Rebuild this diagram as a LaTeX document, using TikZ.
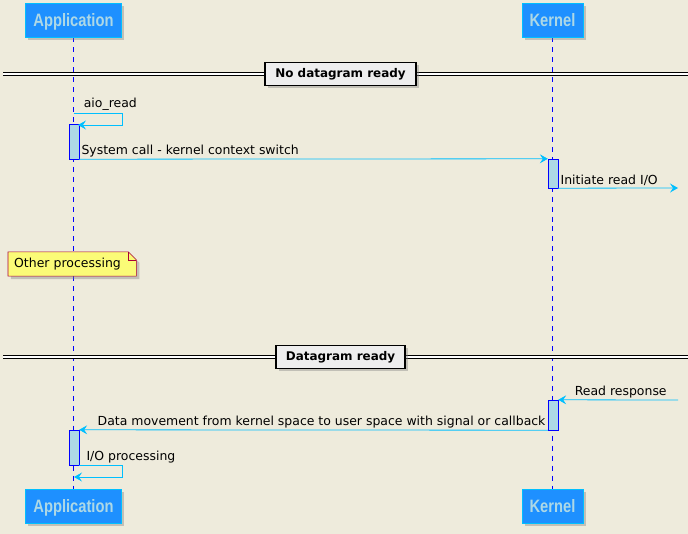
\documentclass[tikz,border=0pt]{standalone}
\usepackage{fontspec}
\setmainfont{DejaVu Sans}
\newfontfamily\headfont{Liberation Sans}
\usetikzlibrary{positioning}
\usetikzlibrary{calc}
\usetikzlibrary{arrows.meta}
\usetikzlibrary{shadows}
\definecolor{paper}{RGB}{238,235,220}
\definecolor{partfill}{RGB}{30,144,255}
\definecolor{parttext}{RGB}{173,216,230}
\definecolor{msgcol}{RGB}{0,191,255}
\definecolor{actfill}{RGB}{173,216,230}
\definecolor{notefill}{RGB}{251,251,119}
\definecolor{noteline}{RGB}{168,0,54}
\definecolor{divfill}{RGB}{238,238,238}
\newcommand{\headtext}[1]{\scalebox{0.82}[1]{#1}}
\pgfdeclarelayer{bg}
\pgfsetlayers{bg,main}

\begin{document}
\begin{tikzpicture}[x=1bp, y=-1bp, line width=0.7pt,
        font=\fontsize{12.5}{15}\selectfont,
        shadow/.style={drop shadow={opacity=0.4, shadow xshift=3pt, shadow yshift=-3pt}},
        participant/.style={rectangle, fill=partfill, draw=msgcol, text=parttext,
            font=\headfont\bfseries\fontsize{18}{20}\selectfont,
            text height=13pt, text depth=0pt, minimum height=34bp, shadow},
        lifeline/.style={draw=blue, line width=0.8pt, dash pattern=on 5pt off 5pt},
        act/.style={rectangle, fill=actfill, draw=blue, minimum width=10bp, inner sep=0pt},
        msg/.style={draw=msgcol, line width=0.8pt, -{Stealth[length=8pt, width=9pt, inset=3pt]}},
        label/.style={text=black, inner sep=2pt},
        divider/.style={rectangle, fill=divfill, draw=black, line width=1.2pt,
            font=\fontsize{12}{14}\selectfont\bfseries, minimum height=23bp, shadow},
        dividerline/.style={draw=black, line width=0.6pt, double=white, double distance=2pt}]
    \useasboundingbox (0,0) rectangle (688,534);
    \begin{pgfonlayer}{bg}
        \fill [paper] (0,0) rectangle (688,534);
    \end{pgfonlayer}

    % participants
    \node [participant, minimum width=96bp] (apptop) at (73.5,20) {\headtext{Application}};
    \node [participant, minimum width=61bp] (kertop) at (552.5,20) {\headtext{Kernel}};
    \node [participant, minimum width=96bp] (appbot) at (73.5,506) {\headtext{Application}};
    \node [participant, minimum width=61bp] (kerbot) at (552.5,506) {\headtext{Kernel}};

    \begin{pgfonlayer}{bg}
        \draw [lifeline] (apptop.south) -- (appbot.north);
        \draw [lifeline] (kertop.south) -- (kerbot.north);
    \end{pgfonlayer}

    % no datagram ready
    \draw [dividerline] (3,74) -- (688,74);
    \node [divider, minimum width=151bp] (nodata) at (340.5,74) {No datagram ready};

    \node [act, minimum height=35bp] (act1) at (74,141.5) {};
    \node [act, minimum height=29bp] (act2) at (553,173.5) {};

    \coordinate (aio) at (73.5,113);
    \coordinate (aioend) at (78,125);
    \draw [msg] (aio) -- ++(49,0) node [label, pos=0, above right, xshift=8pt] {aio\_read} |- (aioend);
    \draw [msg] (act1.south east) -- (act2.north west)
        node [label, pos=0, above right] {System call - kernel context switch};
    \coordinate (readout) at (678,188);
    \draw [msg] (act2.south east) -- (readout)
        node [label, pos=0, above right] {Initiate read I/O};

    % note
    \node [anchor=west, text width=116bp, inner xsep=6pt, inner ysep=4pt, align=left,
        minimum height=24bp] (other) at (8,264) {Other processing};
    \begin{pgfonlayer}{bg}
        \draw [noteline, fill=notefill, line width=0.6pt, shadow] (other.south west) -- (other.north west)
            -- ($(other.north east)+(-8,0)$) -- ($(other.north east)+(0,8)$) -- (other.south east) -- cycle;
    \end{pgfonlayer}
    \draw [noteline, line width=0.6pt] ($(other.north east)+(-8,0)$) |- ($(other.north east)+(0,8)$);

    % datagram ready
    \draw [dividerline] (3,357) -- (688,357);
    \node [divider, minimum width=129bp] (ready) at (340.5,357) {Datagram ready};

    \node [act, minimum height=30bp] (act3) at (553,415) {};
    \node [act, minimum height=35bp] (act4) at (74,447.5) {};

    \coordinate (readin) at (678,400);
    \draw [msg] (readin) -- (act3.north east)
        node [label, pos=0, above left, xshift=-9pt] {Read response};
    \draw [msg] (act3.south west) -- (act4.north east)
        node [label, pos=0, above left] {Data movement from kernel space to user space with signal or callback};
    \coordinate (ioend) at (74,477);
    \draw [msg] (act4.south east) -- ++(43,0) node [label, pos=0, above right, xshift=5pt] {I/O processing} |- (ioend);
\end{tikzpicture}
\end{document}
